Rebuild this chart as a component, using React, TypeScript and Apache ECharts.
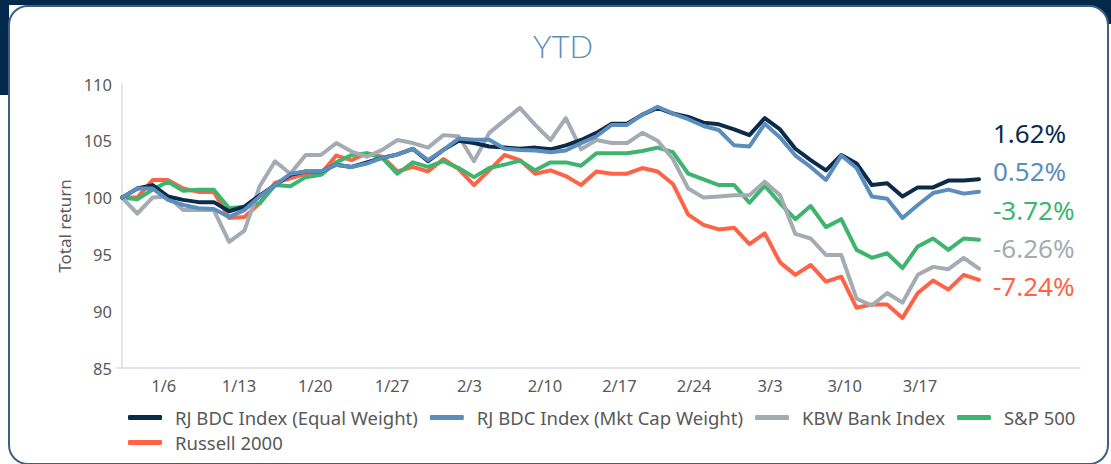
import React, { useEffect, useRef } from "react";
import * as echarts from "echarts";

// ---- data ----
const seriesNames = [
  "RJ BDC Index (Equal Weight)",
  "RJ BDC Index (Mkt Cap Weight)",
  "KBW Bank Index",
  "S&P 500",
  "Russell 2000",
];
const seriesColors = ["#0b2b4b", "#5b8dbd", "#a5abb2", "#3db56e", "#ff6347"];

const rjEqual = [
  100, 100.8, 101.1, 100.1, 99.8, 99.6, 99.6, 98.8, 99.2, 100.2,
  101.1, 102.0, 102.3, 102.3, 102.9, 102.7, 103.1, 103.5, 103.8, 104.3,
  103.2, 104.2, 105.0, 104.8, 104.5, 104.4, 104.3, 104.4, 104.25, 104.6,
  105.07, 105.7, 106.5, 106.5, 107.3, 107.9, 107.4, 107.1, 106.6, 106.45,
  106.0, 105.5, 107.0, 106.0, 104.3, 103.3, 102.4, 103.75, 103.0, 101.1,
  101.26, 100.1, 100.9, 100.9, 101.5, 101.5, 101.62,
];
const rjMktCap = [
  100, 100.8, 100.8, 99.8, 99.35, 99.06, 99.0, 98.3, 98.9, 100.1,
  101.1, 102.1, 102.3, 102.3, 102.9, 102.7, 103.0, 103.5, 103.8, 104.3,
  103.3, 104.2, 105.2, 105.1, 105.1, 104.3, 104.2, 104.15, 104.0, 104.15,
  104.8, 105.4, 106.4, 106.4, 107.3, 108.0, 107.4, 106.9, 106.3, 105.95,
  104.6, 104.5, 106.5, 105.3, 103.7, 102.7, 101.55, 103.7, 102.6, 100.1,
  99.9, 98.2, 99.35, 100.4, 100.7, 100.35, 100.52,
];
const kbwBank = [
  100, 98.6, 100, 100.1, 98.9, 98.9, 98.9, 96.1, 97.1, 101.0,
  103.2, 102.1, 103.75, 103.75, 104.8, 104.05, 103.6, 104.2, 105.07, 104.8,
  104.4, 105.5, 105.4, 103.2, 105.7, 106.8, 107.9, 106.4, 105.07, 107.0,
  104.25, 105.07, 104.8, 104.8, 105.7, 105.0, 103.4, 100.8, 100.0, 100.1,
  100.2, 100.2, 101.4, 100.2, 96.8, 96.4, 94.95, 94.95, 91.1, 90.5,
  91.6, 90.75, 93.2, 93.9, 93.7, 94.7, 93.74,
];
const sp500 = [
  100, 99.85, 100.7, 101.4, 100.6, 100.7, 100.7, 99.06, 99.2, 99.5,
  101.1, 101.0, 101.8, 102.0, 103.1, 103.75, 103.9, 103.5, 102.1, 103.1,
  102.7, 103.2, 102.6, 101.8, 102.6, 102.9, 103.25, 102.4, 103.1, 103.1,
  102.8, 103.9, 103.9, 103.9, 104.1, 104.4, 104.0, 102.1, 101.6, 101.1,
  101.1, 99.55, 101.05, 99.5, 98.1, 99.26, 97.4, 98.1, 95.4, 94.7,
  95.1, 93.8, 95.7, 96.4, 95.4, 96.4, 96.28,
];
const russell2000 = [
  100, 100.0, 101.55, 101.55, 100.8, 100.5, 100.5, 98.2, 98.3, 99.5,
  101.3, 101.7, 102.1, 102.1, 103.7, 103.3, 103.9, 103.6, 102.3, 102.7,
  102.3, 103.4, 102.5, 101.1, 102.4, 103.75, 103.3, 102.1, 102.4, 101.9,
  101.1, 102.3, 102.1, 102.1, 102.6, 102.3, 101.2, 98.5, 97.6, 97.2,
  97.35, 95.9, 96.85, 94.3, 93.2, 94.07, 92.6, 93.04, 90.3, 90.6,
  90.6, 89.4, 91.6, 92.7, 91.9, 93.2, 92.76,
];
const allSeries = [rjEqual, rjMktCap, kbwBank, sp500, russell2000];

// right-hand YTD returns, listed top to bottom, with the series each belongs to
const endLabels = ["1.62%", "0.52%", "-3.72%", "-6.26%", "-7.24%"];
const endLabelSeries = [0, 1, 3, 2, 4];

const xTickLabels = ["1/6", "1/13", "1/20", "1/27", "2/3", "2/10", "2/17", "2/24", "3/3", "3/10", "3/17"];
const xTickPos = [2.73, 7.64, 12.63, 17.64, 22.7, 27.64, 32.5, 37.38, 42.35, 47.22, 52.14];

const yTicks = [85, 90, 95, 100, 105, 110];

// drawing order (bottom -> top)
const drawOrder = [4, 3, 2, 0, 1];

const FONT = "'Noto Sans', 'Open Sans', sans-serif";
const TITLE_FONT = "Lato, 'Noto Sans', sans-serif";

export default function App() {
  const ref = useRef<HTMLDivElement>(null);

  useEffect(() => {
    if (!ref.current) return;
    const chart = echarts.init(ref.current, null, { renderer: "svg" });

    const series = drawOrder.map((k) => ({
      name: seriesNames[k],
      type: "line",
      data: allSeries[k].map((v, i) => [i, v]),
      symbol: "none",
      color: seriesColors[k],
      lineStyle: { width: 4, color: seriesColors[k], cap: "round", join: "round" },
      z: 2,
    }));

    const endY = [133, 171, 210, 248, 286];

    const legendBase = {
      left: 128,
      padding: 0,
      icon: "roundRect",
      itemWidth: 34,
      itemHeight: 5,
      itemGap: 12,
      textStyle: {
        color: "#595959",
        fontSize: 18.5,
        fontFamily: FONT,
        padding: [0, 0, 0, 8],
      },
    };

    chart.setOption({
      animation: false,
      textStyle: { fontFamily: FONT },
      grid: { left: 117, right: 31, top: 84, bottom: 96, containLabel: false },
      xAxis: {
        type: "value",
        min: -0.3267,
        max: 62.6,
        axisLine: { show: true, lineStyle: { color: "#d9dde2", width: 1.5 } },
        axisTick: { show: false },
        splitLine: { show: false },
        axisLabel: {
          customValues: xTickPos,
          color: "#595959",
          fontSize: 16.5,
          fontFamily: FONT,
          margin: 9,
          formatter: (val: number) => {
            const j = xTickPos.findIndex((p) => Math.abs(p - val) < 0.01);
            return j >= 0 ? xTickLabels[j] : "";
          },
        },
      },
      yAxis: {
        type: "value",
        min: yTicks[0],
        max: yTicks[yTicks.length - 1],
        interval: 5,
        name: "Total return",
        nameLocation: "middle",
        nameGap: 42,
        nameRotate: 90,
        nameTextStyle: { color: "#595959", fontSize: 17, fontFamily: FONT },
        axisLine: { show: true, lineStyle: { color: "#d9dde2", width: 1.5 } },
        axisTick: { show: false },
        splitLine: { show: false },
        axisLabel: { color: "#595959", fontSize: 16.5, fontFamily: FONT, margin: 5 },
      },
      legend: [
        { ...legendBase, data: seriesNames.slice(0, 4), top: 408 },
        { ...legendBase, data: seriesNames.slice(4), top: 433 },
      ],
      graphic: [
        {
          type: "text",
          x: 563,
          y: 46,
          style: {
            text: "YTD",
            fill: "#5b8dbd",
            fontSize: 31,
            fontFamily: TITLE_FONT,
            fontWeight: 300,
            textAlign: "center",
            textVerticalAlign: "middle",
          },
        },
        ...endLabels.map((t, k) => ({
          type: "text",
          x: 993,
          y: endY[k],
          style: {
            text: t,
            fill: seriesColors[endLabelSeries[k]],
            fontSize: 26,
            fontFamily: FONT,
            textAlign: "left",
            textVerticalAlign: "middle",
          },
        })),
      ],
      series,
    });

    return () => chart.dispose();
  }, []);

  return (
    <div style={{ position: "absolute", left: 0, top: 0, width: 1111, height: 464, background: "#ffffff", overflow: "hidden" }}>
      <div style={{ position: "absolute", left: 0, top: 0, width: 1111, height: 5, background: "#03294a" }} />
      <div style={{ position: "absolute", left: 0, top: 0, width: 9, height: 95, background: "#03294a" }} />
      <div style={{ position: "absolute", right: 0, top: 0, width: 24, height: 24, background: "#03294a" }} />
      <div
        style={{
          position: "absolute",
          left: 8,
          top: 5,
          width: 1097,
          height: 456,
          border: "2px solid #3e5f80",
          borderRadius: 20,
          background: "#ffffff",
        }}
      />
      <div ref={ref} style={{ position: "absolute", left: 0, top: 0, width: 1111, height: 464 }} />
    </div>
  );
}
